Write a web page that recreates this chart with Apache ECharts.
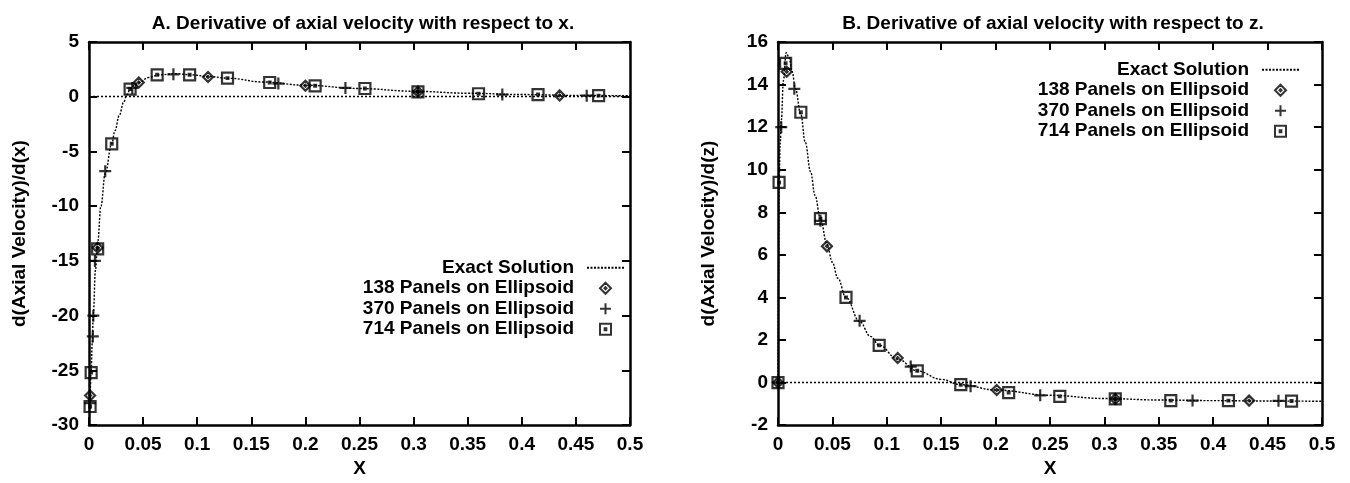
<!DOCTYPE html>
<html><head><meta charset="utf-8">
<script src="https://cdn.jsdelivr.net/npm/echarts@6/dist/echarts.min.js"></script>
<style>html,body{margin:0;padding:0;background:#fff}#c{width:1350px;height:483px}</style>
</head><body><div id="c"></div>
<script>
// ---- Panel A: d(Axial Velocity)/d(x)
const exactAX = [0, 0.001, 0.002, 0.003, 0.004, 0.006, 0.008, 0.011, 0.015, 0.021, 0.024, 0.028, 0.032, 0.035, 0.038, 0.042, 0.046, 0.055, 0.065, 0.08, 0.095, 0.11, 0.13, 0.16, 0.2, 0.25, 0.3, 0.35, 0.4, 0.45, 0.5];
const exactAY = [-28.8, -27, -25, -22.5, -19.8, -15.8, -13.3, -10.0, -7.0, -4.3, -3.1, -1.7, -0.5, 0.2, 0.65, 1.05, 1.3, 1.75, 2.0, 2.1, 2.0, 1.85, 1.68, 1.35, 1.05, 0.75, 0.5, 0.32, 0.2, 0.12, 0.08];
const p138AX = [0.001, 0.008, 0.046, 0.110, 0.200, 0.304, 0.435];
const p138AY = [-27.3, -13.8, 1.3, 1.8, 1.0, 0.45, 0.12];
const p370AX = [0.001, 0.0035, 0.004, 0.0055, 0.015, 0.040, 0.078, 0.175, 0.237, 0.304, 0.382, 0.460];
const p370AY = [-28.0, -21.9, -20.0, -15.0, -6.8, 0.8, 2.05, 1.2, 0.8, 0.45, 0.2, 0.1];
const p714AX = [0.001, 0.002, 0.008, 0.021, 0.038, 0.063, 0.093, 0.128, 0.167, 0.209, 0.255, 0.304, 0.360, 0.415, 0.471];
const p714AY = [-28.3, -25.2, -13.9, -4.3, 0.7, 2.0, 2.0, 1.7, 1.3, 1.0, 0.75, 0.45, 0.27, 0.2, 0.1];

// ---- Panel B: d(Axial Velocity)/d(z)
const exactBX = [0, 0.0005, 0.001, 0.002, 0.003, 0.005, 0.0075, 0.01, 0.013, 0.016, 0.021, 0.025, 0.03, 0.034, 0.039, 0.045, 0.05, 0.055, 0.0625, 0.075, 0.085, 0.093, 0.11, 0.128, 0.15, 0.168, 0.2, 0.25, 0.3, 0.35, 0.4, 0.45, 0.5];
const exactBY = [0, 5, 9.4, 11.2, 12.3, 14.2, 15.5, 15.3, 14.6, 13.8, 12.6, 11.3, 9.9, 8.8, 7.7, 6.5, 5.65, 4.9, 4.0, 2.87, 2.17, 1.75, 1.1, 0.55, 0.15, -0.1, -0.35, -0.6, -0.75, -0.82, -0.85, -0.87, -0.88];
const p138BX = [0, 0.008, 0.045, 0.110, 0.201, 0.310, 0.433];
const p138BY = [0, 14.6, 6.4, 1.15, -0.35, -0.77, -0.85];
const p370BX = [0, 0.003, 0.015, 0.039, 0.075, 0.122, 0.177, 0.241, 0.310, 0.381, 0.460];
const p370BY = [0, 12.0, 13.8, 7.6, 2.9, 0.75, -0.17, -0.6, -0.77, -0.85, -0.86];
const p714BX = [0, 0.001, 0.007, 0.021, 0.039, 0.0625, 0.093, 0.128, 0.168, 0.212, 0.259, 0.310, 0.361, 0.414, 0.472];
const p714BY = [0, 9.4, 15.0, 12.7, 7.7, 4.0, 1.75, 0.55, -0.1, -0.47, -0.65, -0.77, -0.85, -0.85, -0.87];

const names = ['Exact Solution', '138 Panels on Ellipsoid', '370 Panels on Ellipsoid', '714 Panels on Ellipsoid'];
const titles = ['A. Derivative of axial velocity with respect to x.', 'B. Derivative of axial velocity with respect to z.'];
const yNames = ['d(Axial Velocity)/d(x)', 'd(Axial Velocity)/d(z)'];

const zip = (xs, ys) => xs.map((x, i) => [x, ys[i]]);
const FONT = 'Liberation Sans, Arial, Helvetica, sans-serif';
const SYM = {
  diamond: 'path://M5,0L10,5L5,10L0,5Z M5,4.1L5.9,5L5,5.9L4.1,5Z',
  plus: 'path://M5,0L5,10M0,5L10,5',
  square: 'path://M0,0H10V10H0Z M4.2,4.2H5.8V5.8H4.2Z'
};

const axLine = { onZero: false, lineStyle: { color: '#000', width: 2.5 } };
const axTick = { inside: true, length: 8, lineStyle: { color: '#000', width: 2 } };
const lbl = { color: '#000', fontSize: 19, fontWeight: 'bold', fontFamily: FONT, margin: 10 };

function xAx(grid, pos, show) {
  return {
    type: 'value', gridIndex: grid, position: pos, min: 0, max: 0.5, interval: 0.05,
    axisLine: axLine, axisTick: axTick, splitLine: { show: false },
    axisLabel: show ? lbl : { show: false },
    name: show ? 'X' : '', nameLocation: 'middle', nameGap: 31,
    nameTextStyle: { color: '#000', fontSize: 19, fontWeight: 'bold', fontFamily: FONT }
  };
}
function yAx(grid, pos, show, min, max, iv, nm) {
  return {
    type: 'value', gridIndex: grid, position: pos, min: min, max: max, interval: iv,
    axisLine: axLine, axisTick: axTick, splitLine: { show: false },
    axisLabel: show ? lbl : { show: false },
    name: show ? nm : '', nameLocation: 'middle', nameGap: 60, nameRotate: 90,
    nameTextStyle: { color: '#000', fontSize: 19, fontWeight: 'bold', fontFamily: FONT }
  };
}
function scat(name, sym, size, xi, yi, data) {
  return {
    name: name, type: 'scatter', xAxisIndex: xi, yAxisIndex: yi, data: data,
    symbol: sym, symbolSize: size, symbolKeepAspect: true, z: 5,
    itemStyle: { color: 'rgba(0,0,0,0)', borderColor: '#000', borderWidth: 2.2 }
  };
}
function exact(xi, yi, data) {
  return {
    name: names[0], type: 'line', xAxisIndex: xi, yAxisIndex: yi, data: data,
    symbol: 'none', smooth: 0.4, smoothMonotone: 'x',
    itemStyle: { color: 'rgba(0,0,0,0)', borderColor: 'rgba(0,0,0,0)' },
    lineStyle: { color: '#000', width: 1.4, type: [2, 1.5] },
    markLine: {
      silent: true, symbol: 'none', label: { show: false },
      lineStyle: { color: '#000', width: 1.4, type: [2, 2] },
      data: [{ yAxis: 0 }]
    }
  };
}
function legend(right, top) {
  return {
    orient: 'vertical', right: right, top: top, align: 'right',
    itemWidth: 37, itemHeight: 11, itemGap: 1, selectedMode: false,
    textStyle: { color: '#000', fontSize: 19, fontWeight: 'bold', fontFamily: FONT, lineHeight: 19.5, padding: [0, 8, 0, 0] },
    data: [{ name: names[0], itemStyle: { opacity: 0 } }, names[1], names[2], names[3]]
  };
}

const option = {
  backgroundColor: '#fff',
  animation: false,
  title: [
    { text: titles[0], left: 358, top: 9, textAlign: 'center', textStyle: { color: '#000', fontSize: 19, fontWeight: 'bold', fontFamily: FONT } },
    { text: titles[1], left: 1048, top: 9, textAlign: 'center', textStyle: { color: '#000', fontSize: 19, fontWeight: 'bold', fontFamily: FONT } }
  ],
  grid: [
    { left: 89, right: 720, top: 42, bottom: 46 },
    { left: 778, right: 28, top: 42, bottom: 46 }
  ],
  xAxis: [xAx(0, 'bottom', true), xAx(0, 'top', false), xAx(1, 'bottom', true), xAx(1, 'top', false)],
  yAxis: [
    yAx(0, 'left', true, -30, 5, 5, yNames[0]), yAx(0, 'right', false, -30, 5, 5, ''),
    yAx(1, 'left', true, -2, 16, 2, yNames[1]), yAx(1, 'right', false, -2, 16, 2, '')
  ],
  legend: [legend(720, 253), legend(45, 55)],
  series: [
    exact(0, 0, zip(exactAX, exactAY)),
    scat(names[1], SYM.diamond, 10, 0, 0, zip(p138AX, p138AY)),
    scat(names[2], SYM.plus, 12, 0, 0, zip(p370AX, p370AY)),
    scat(names[3], SYM.square, 11, 0, 0, zip(p714AX, p714AY)),
    exact(2, 2, zip(exactBX, exactBY)),
    scat(names[1], SYM.diamond, 10, 2, 2, zip(p138BX, p138BY)),
    scat(names[2], SYM.plus, 12, 2, 2, zip(p370BX, p370BY)),
    scat(names[3], SYM.square, 11, 2, 2, zip(p714BX, p714BY))
  ]
};
const chart = echarts.init(document.getElementById('c'), null, { renderer: 'canvas' });
chart.setOption(option);
</script>
</body></html>
